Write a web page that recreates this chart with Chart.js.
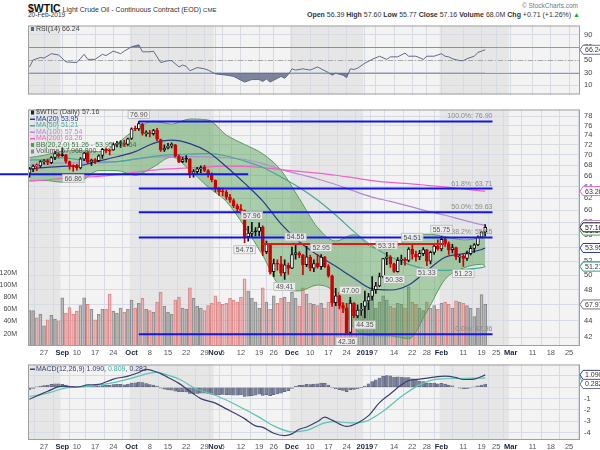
<!DOCTYPE html>
<html lang="en">
<head>
<meta charset="UTF-8">
<title>$WTIC Light Crude Oil</title>
<script src="https://cdn.jsdelivr.net/npm/chart.js"></script>
<style>
    body { margin: 0; background: #fff; }
    #box { position: relative; width: 600px; height: 450px; overflow: hidden; font-family: "Liberation Sans", Arial, sans-serif; }
    #box canvas { position: absolute; left: 0; }
    .txt { position: absolute; white-space: nowrap; font-size: 7px; color: #333; line-height: 1; }
</style>
</head>
<body>
<div id="box">
    <div class="txt" style="left:28px; top:3px;"><b style="font-size:10.5px; color:#111;">$WTIC</b> Light Crude Oil - Continuous Contract (EOD) <span style="font-size:6px;">CME</span></div>
    <div class="txt" style="left:28px; top:12px; font-size:6.5px;">20-Feb-2019</div>
    <div class="txt" style="right:22px; top:3px; color:#777; font-size:6.5px;">© StockCharts.com</div>
    <div class="txt" style="right:20px; top:11px;"><b>Open</b> 56.39 <b>High</b> 57.60 <b>Low</b> 55.77 <b>Close</b> 57.16 <b>Volume</b> 68.0M <b>Chg</b> +0.71 (+1.26%) <span style="color:#2a2;">▲</span></div>
    <canvas id="rsiChart" width="600" height="86" style="top:17px;"></canvas>
    <canvas id="priceChart" width="600" height="259" style="top:101px;"></canvas>
    <canvas id="macdChart" width="600" height="94" style="top:356px;"></canvas>
</div>
<script>
    const FONT = '"Liberation Sans", Arial, sans-serif';
    const GRID = '#d6dbe4';

    // trading sessions from 2018-08-21, weekends and exchange holidays skipped
    const holidays = ['2018-09-03', '2018-11-22', '2018-12-25', '2019-01-01', '2019-01-21', '2019-02-18'];
    const days = [];
    for (let d = new Date(Date.UTC(2018, 7, 21)); days.length < 152; d.setUTCDate(d.getUTCDate() + 1)) {
        const s = d.toISOString().slice(0, 10);
        if (d.getUTCDay() === 0 || d.getUTCDay() === 6 || holidays.includes(s)) continue;
        days.push(s);
    }

    const tickDates = ['2018-08-27', '2018-09-04', '2018-09-10', '2018-09-17', '2018-09-24', '2018-10-01', '2018-10-08', '2018-10-15', '2018-10-22', '2018-10-29',
        '2018-11-01', '2018-11-05', '2018-11-12', '2018-11-19', '2018-11-26', '2018-12-03', '2018-12-10', '2018-12-17', '2018-12-24', '2019-01-02',
        '2019-01-07', '2019-01-14', '2019-01-22', '2019-01-28', '2019-02-01', '2019-02-11', '2019-02-19', '2019-02-25', '2019-03-01', '2019-03-11',
        '2019-03-18', '2019-03-25'];
    const tickText = ['27', 'Sep', '10', '17', '24', 'Oct', '8', '15', '22', '29', 'Nov', '5', '12', '19', '26', 'Dec', '10', '17', '24', '2019',
        '7', '14', '22', '28', 'Feb', '11', '19', '25', 'Mar', '11', '18', '25'];
    const boldText = ['Sep', 'Oct', 'Nov', 'Dec', '2019', 'Feb', 'Mar'];
    const shadedMonths = ['2018-08', '2018-10', '2018-12', '2019-02'];

    const prevClose = 66.43;
    const open = [66.50, 67.30, 67.80, 67.90, 68.70, 68.90, 68.50, 69.50, 70.20, 69.90,
        70.00, 68.70, 67.80, 67.80, 67.50, 69.20, 70.40, 68.60, 69.00, 68.90,
        69.90, 71.10, 70.80, 71.00, 72.10, 72.30, 72.20, 72.10, 73.30, 75.30,
        75.30, 76.40, 74.30, 74.40, 74.30, 75.00, 73.10, 71.00, 71.40, 71.80,
        72.00, 69.80, 68.70, 69.20, 69.20, 66.40, 66.80, 67.30, 67.60, 67.00,
        66.20, 65.20, 63.60, 63.10, 63.10, 62.20, 61.60, 60.70, 60.20, 59.90,
        55.70, 56.20, 56.50, 56.50, 57.20, 53.40, 54.60, 50.50, 51.60, 51.60,
        50.30, 51.40, 51.00, 53.00, 53.20, 52.90, 51.50, 52.60, 51.00, 51.70,
        51.20, 52.60, 51.20, 49.90, 46.30, 47.20, 45.90, 45.60, 42.60, 46.20,
        44.60, 45.30, 45.80, 46.50, 47.10, 48.00, 48.50, 49.80, 52.40, 52.60,
        51.60, 50.50, 52.10, 52.30, 52.10, 53.80, 53.00, 52.60, 53.10, 53.70,
        52.00, 53.30, 54.20, 53.80, 55.30, 54.60, 53.70, 54.00, 52.60, 52.70,
        52.40, 53.10, 53.90, 54.40, 55.60, 56.39];
    const high = [67.60, 68.10, 68.30, 68.90, 69.10, 69.20, 69.70, 70.70, 70.40, 71.40,
        70.10, 68.80, 68.10, 68.20, 69.50, 70.50, 70.60, 69.20, 69.30, 70.00,
        71.30, 71.40, 71.10, 72.40, 72.70, 72.80, 72.90, 73.40, 75.50, 75.90,
        76.90, 76.50, 74.90, 75.00, 75.20, 75.40, 73.20, 72.00, 72.30, 72.40,
        72.10, 70.00, 69.60, 69.90, 69.30, 67.20, 67.60, 67.90, 68.00, 67.20,
        66.60, 65.30, 63.90, 63.80, 63.40, 62.70, 61.90, 61.00, 60.90, 60.00,
        57.30, 57.96, 57.10, 57.90, 57.40, 55.00, 54.60, 52.30, 52.20, 52.70,
        52.20, 51.70, 54.10, 54.55, 53.40, 53.00, 54.20, 52.90, 52.20, 53.00,
        52.95, 52.70, 51.50, 50.00, 48.20, 47.60, 46.30, 46.20, 47.00, 46.30,
        46.00, 46.20, 47.80, 47.50, 49.80, 49.00, 50.30, 52.40, 53.31, 52.80,
        51.70, 52.50, 52.90, 52.50, 54.00, 54.51, 53.50, 53.60, 54.00, 53.70,
        53.50, 54.50, 55.20, 55.75, 55.60, 54.90, 54.50, 54.10, 52.90, 53.10,
        53.50, 54.30, 54.60, 55.80, 56.50, 57.60];
    const low = [65.80, 66.80, 67.00, 67.60, 68.20, 68.10, 68.30, 69.10, 69.50, 69.70,
        68.40, 67.20, 66.86, 67.10, 67.30, 68.90, 68.30, 68.00, 68.30, 68.70,
        69.30, 70.40, 70.00, 70.90, 71.60, 71.50, 71.70, 71.90, 73.10, 74.90,
        75.00, 74.00, 73.80, 73.60, 74.00, 72.80, 70.70, 70.70, 71.20, 71.40,
        69.60, 68.50, 68.50, 68.60, 65.70, 65.80, 66.30, 66.60, 66.80, 65.80,
        64.90, 63.10, 62.50, 62.40, 61.80, 61.30, 60.40, 59.60, 59.30, 54.75,
        55.00, 55.60, 55.80, 55.80, 52.80, 53.10, 50.15, 49.80, 50.70, 49.90,
        49.41, 50.10, 50.90, 52.30, 52.50, 50.08, 51.20, 50.60, 50.50, 51.00,
        50.80, 51.10, 49.70, 45.79, 45.90, 45.50, 45.00, 42.36, 42.40, 44.40,
        44.40, 44.70, 44.35, 45.40, 46.60, 47.50, 48.40, 49.60, 51.50, 51.10,
        50.38, 50.40, 51.50, 51.40, 51.90, 52.30, 52.00, 52.20, 52.80, 51.33,
        51.60, 53.00, 53.60, 53.50, 54.20, 53.00, 53.20, 52.20, 51.80, 51.23,
        52.10, 52.90, 53.30, 54.30, 55.50, 55.77];
    const close = [67.35, 67.86, 67.83, 68.72, 68.87, 68.53, 69.51, 70.25, 69.80, 69.87,
        68.72, 67.77, 67.75, 67.54, 69.25, 70.37, 68.59, 68.99, 68.91, 69.85,
        71.12, 70.80, 70.78, 72.08, 72.28, 72.28, 72.12, 73.25, 75.30, 75.23,
        76.41, 74.33, 74.34, 74.29, 74.96, 73.17, 70.97, 71.34, 71.78, 72.09,
        69.75, 68.65, 69.12, 69.17, 66.43, 66.82, 67.33, 67.59, 67.04, 66.18,
        65.31, 63.69, 63.14, 63.10, 62.21, 61.67, 60.67, 60.19, 59.93, 55.69,
        56.25, 56.46, 56.46, 57.20, 53.43, 54.63, 50.42, 51.63, 51.56, 50.29,
        51.45, 50.93, 52.95, 53.25, 52.89, 51.49, 52.61, 51.00, 51.65, 51.15,
        52.58, 51.20, 49.88, 46.24, 47.20, 45.88, 45.59, 42.53, 46.22, 44.61,
        45.33, 45.41, 46.54, 47.09, 47.96, 48.52, 49.78, 52.36, 52.59, 51.59,
        50.51, 52.11, 52.31, 52.07, 53.80, 53.01, 52.62, 53.13, 53.69, 51.99,
        53.31, 54.23, 53.79, 55.26, 54.56, 53.66, 54.01, 52.64, 52.72, 52.41,
        53.10, 53.90, 54.41, 55.59, 56.45, 57.16];
    // volume, millions
    const volume = [58, 58, 46, 52, 33, 43, 50, 44, 41, 79, 54, 63, 52, 57, 66, 79, 68, 60, 43, 52, 60, 60, 85, 57, 54,
        62, 55, 60, 75, 62, 70, 78, 60, 58, 55, 72, 88, 65, 55, 52, 75, 80, 62, 60, 95, 78, 65, 62, 58, 66, 70,
        82, 72, 68, 70, 78, 75, 72, 80, 110, 90, 78, 72, 62, 95, 72, 60, 82, 70, 78, 80, 72,
        88, 78, 65, 95, 85, 70, 68, 66, 70, 62, 72, 98, 82, 88, 70, 62, 75, 68, 58, 50,
        72, 70, 80, 62, 72, 82, 75, 65, 62, 70, 68, 62, 97, 72, 68, 62, 58, 72, 62, 66, 60,
        70, 72, 68, 62, 74, 72, 70, 66, 62, 48, 62, 84, 68];

    // overlays read at every fifth session
    const maDay = [0, 4, 9, 14, 19, 24, 29, 34, 39, 44, 49, 54, 59, 64, 69, 74, 79, 84, 89, 94, 99, 104, 109, 114, 119, 124, 125];
    const ma20 = [67.30, 67.56, 67.81, 67.97, 68.82, 69.64, 70.65, 72.31, 72.95, 72.25, 70.59, 67.74, 64.68, 61.52, 57.70, 54.90, 52.89, 51.25, 49.57, 48.11, 47.96, 48.64, 50.62, 52.56, 53.09, 53.72, 53.95];
    const ma50 = [69.00, 69.10, 69.43, 69.07, 68.63, 68.70, 69.17, 69.73, 70.06, 70.16, 70.27, 69.80, 68.81, 67.58, 65.82, 63.91, 61.70, 59.16, 56.47, 54.25, 52.65, 51.52, 50.84, 50.67, 50.81, 51.05, 51.21];
    const ma100 = [68.10, 68.20, 68.47, 68.49, 68.47, 68.70, 69.19, 69.57, 69.68, 69.68, 69.64, 69.45, 69.12, 68.33, 67.23, 66.31, 65.44, 64.45, 63.27, 62.21, 61.46, 60.66, 59.83, 59.13, 58.32, 57.60, 57.54];
    const ma200 = [65.10, 65.25, 65.54, 65.75, 65.94, 66.25, 66.70, 67.09, 67.34, 67.54, 67.72, 67.83, 67.81, 67.57, 67.17, 66.86, 66.52, 66.13, 65.64, 65.16, 64.83, 64.60, 64.30, 64.00, 63.65, 63.30, 63.26];
    const bbUpper = [69.50, 69.94, 70.75, 70.85, 70.64, 72.28, 75.17, 76.93, 76.31, 77.41, 77.19, 74.02, 72.08, 70.22, 67.06, 61.96, 57.15, 55.01, 55.99, 54.03, 53.74, 55.44, 56.08, 55.70, 55.19, 55.90, 56.64];
    const bbLower = [65.10, 65.18, 64.87, 65.09, 67.00, 67.00, 66.13, 67.69, 69.59, 67.09, 63.99, 61.46, 57.28, 52.82, 48.34, 47.84, 48.63, 47.49, 43.15, 42.19, 42.18, 41.84, 45.16, 49.42, 50.99, 51.54, 51.26];

    const fibPct = ['100.0%', '61.8%', '50.0%', '38.2%', '0.0%'];
    const fibPrice = [76.90, 63.71, 59.63, 55.55, 42.36];
    const fibFrom = 30, fibTo = 127;
    const levelPrice = 66.3, levelTo = 60;
    const resistPrice = 54.55, resistFrom = 64, resistTo = 114;

    const noteDay = [12, 30, 59, 61, 70, 73, 80, 87, 88, 92, 98, 100, 105, 109, 113, 119];
    const noteSide = ['low', 'high', 'low', 'high', 'low', 'high', 'high', 'low', 'high', 'low', 'high', 'low', 'high', 'low', 'high', 'low'];

    const rsiDay = [0, 1, 3, 4, 6, 8, 10, 13, 15, 16, 18, 20, 21, 23, 25, 26, 28, 30, 31, 33, 34, 36, 38, 39, 41, 42, 43, 44, 46, 48,
        49, 51, 54, 56, 59, 61, 63, 64, 65, 66, 67, 69, 70, 71, 72, 73, 75, 77, 79, 80, 82, 83, 84, 86, 87, 88, 89, 90, 92, 94,
        96, 98, 99, 101, 103, 104, 106, 108, 109, 111, 113, 114, 115, 116, 118, 119, 120, 122, 123, 124, 125];
    const rsiValue = [39, 50, 54, 53, 60, 58, 47, 46, 59, 51, 51, 59, 57, 64, 60, 64, 71, 74, 63, 63, 64, 46, 49, 49, 39, 42, 40, 33, 38, 36,
        34, 28, 26, 24, 15, 19, 19, 16, 20, 15, 18, 24, 21, 27, 36, 34, 36, 34, 39, 36, 30, 26, 29, 26, 22, 36, 35, 37, 45, 51,
        56, 51, 55, 55, 61, 56, 56, 51, 56, 56, 60, 56, 55, 52, 49, 49, 52, 56, 62, 64, 66.24];

    const macdDay = [0, 2, 5, 9, 13, 16, 19, 23, 27, 30, 32, 36, 38, 41, 44, 47, 51, 54, 57, 59, 62, 64, 67, 70, 72, 74, 76, 79, 81, 83,
        87, 90, 93, 96, 99, 102, 104, 107, 110, 114, 117, 119, 122, 125];
    const macdValue = [-1.05, -0.77, -0.35, 0.10, 0.02, 0.20, 0.26, 0.72, 0.98, 1.30, 1.58, 1.20, 0.85, 0.34, -0.36, -1.00, -1.40, -1.90, -2.40, -2.76,
        -3.40, -3.53, -4.05, -4.25, -4.10, -3.70, -3.50, -3.02, -2.63, -2.89, -3.45, -3.14, -2.50, -1.35, -0.57, 0.21, 0.59, 0.72, 0.85, 0.98,
        0.85, 0.68, 0.72, 1.09];
    const signalDay = [0, 5, 10, 16, 22, 28, 33, 35, 37, 41, 46, 51, 57, 63, 67, 72, 76, 81, 84, 88, 92, 97, 102, 107, 112, 118, 125];
    const signalValue = [-0.82, -0.52, -0.05, 0.08, 0.34, 0.80, 1.24, 1.30, 1.15, 0.72, -0.18, -0.70, -1.60, -2.63, -3.40, -3.92, -3.79, -3.14, -3.02, -3.14,
        -3.02, -2.11, -0.82, 0.21, 0.72, 0.77, 0.809];
    const macdHist = [-0.2, -0.1, 0.02, 0.1, 0.15, 0.2, 0.25, 0.3, 0.3, 0.26, 0.18, 0.1, 0.05, 0.02, 0.06, 0.12, 0.1, 0.1, 0.07, 0.08,
        0.15, 0.16, 0.16, 0.24, 0.26, 0.25, 0.22, 0.27, 0.36, 0.38, 0.45, 0.4, 0.33, 0.24, 0.2, 0.1, -0.08, -0.18, -0.24, -0.26,
        -0.34, -0.4, -0.4, -0.42, -0.55, -0.56, -0.55, -0.52, -0.52, -0.55, -0.6, -0.66, -0.66, -0.64, -0.66, -0.68, -0.7, -0.7, -0.68, -0.8,
        -0.78, -0.74, -0.7, -0.62, -0.72, -0.66, -0.74, -0.66, -0.58, -0.52, -0.4, -0.3, -0.1, 0.08, 0.16, 0.18, 0.26, 0.24, 0.28, 0.3,
        0.36, 0.34, 0.2, -0.05, -0.12, -0.22, -0.28, -0.4, -0.22, -0.2, -0.12, -0.04, 0.1, 0.3, 0.5, 0.66, 0.8, 0.98, 1.02, 1.0,
        0.9, 0.92, 0.9, 0.84, 0.86, 0.74, 0.62, 0.55, 0.5, 0.36, 0.34, 0.36, 0.3, 0.34, 0.28, 0.18, 0.12, 0.0, -0.08, -0.14,
        -0.12, -0.06, 0.02, 0.12, 0.2, 0.282];

    const priceTicks = [42, 44, 46, 48, 50, 52, 54, 56, 58, 60, 62, 64, 66, 68, 70, 72, 74, 76, 78];
    const volTicks = [20, 40, 60, 80, 100, 120];
    const rsiTicks = [10, 30, 50, 70, 90];
    const macdTicks = [-4, -3, -2, -1, 0, 1];

    const tickDays = tickDates.map(d => days.indexOf(d));
    const monthSpans = shadedMonths.map(m => {
        const idx = days.map((d, i) => d.startsWith(m) ? i : -1).filter(i => i >= 0);
        return [idx[0], idx[idx.length - 1]];
    });
    const X_MIN = -0.4, X_MAX = 151;

    const upDay = close.map((c, i) => c >= (i ? close[i - 1] : prevClose));
    const candleColor = upDay.map(u => u ? '#111111' : '#d00000');

    function xAxis(showLabels, h) {
        return {
            type: 'linear', min: X_MIN, max: X_MAX, offset: false,
            afterBuildTicks: s => { s.ticks = tickDays.map(v => ({ value: v })); },
            afterFit: s => { s.height = h; },
            grid: { color: GRID, drawTicks: false },
            border: { display: false },
            ticks: {
                display: showLabels, padding: 2, maxRotation: 0, autoSkip: false,
                callback: (v, i) => tickText[i],
                color: c => boldText.includes(tickText[c.index]) ? '#1a2340' : '#555',
                font: c => ({ family: FONT, size: 7.5, weight: boldText.includes(tickText[c.index]) ? 'bold' : 'normal' })
            }
        };
    }

    function yRight(type, min, max, ticks) {
        return {
            type: type, position: 'right', min: min, max: max,
            afterBuildTicks: s => { s.ticks = ticks.map(v => ({ value: v })); },
            afterFit: s => { s.width = 20; },
            grid: { color: GRID, drawTicks: false },
            border: { display: false },
            ticks: { padding: 4, color: '#444', font: { family: FONT, size: 7.5 }, callback: v => String(v) }
        };
    }

    const panelBg = {
        id: 'panelBg',
        beforeDraw(chart) {
            const { ctx, chartArea: a, scales: { x } } = chart;
            ctx.save();
            ctx.fillStyle = '#f3f3f3';
            ctx.fillRect(a.left, a.top, a.width, a.height);
            ctx.fillStyle = '#e6e6e6';
            monthSpans.forEach(([s, e]) => {
                const l = Math.max(a.left, x.getPixelForValue(s - 0.5));
                const r = Math.min(a.right, x.getPixelForValue(e + 0.5));
                ctx.fillRect(l, a.top, r - l, a.height);
            });
            ctx.restore();
        },
        afterDraw(chart) {
            const { ctx, chartArea: a } = chart;
            ctx.save();
            ctx.strokeStyle = '#a0a0a0';
            ctx.lineWidth = 1;
            ctx.strokeRect(a.left + 0.5, a.top + 0.5, a.width - 1, a.height - 1);
            ctx.restore();
        }
    };

    function axisTag(ctx, left, yPix, text, border, color) {
        ctx.font = '7px ' + FONT;
        const w = ctx.measureText(text).width + 5;
        ctx.beginPath();
        ctx.moveTo(left, yPix);
        ctx.lineTo(left + 3, yPix - 4.5);
        ctx.lineTo(left + 3 + w, yPix - 4.5);
        ctx.lineTo(left + 3 + w, yPix + 4.5);
        ctx.lineTo(left + 3, yPix + 4.5);
        ctx.closePath();
        ctx.fillStyle = '#ffffff';
        ctx.fill();
        ctx.strokeStyle = border;
        ctx.lineWidth = 1;
        ctx.stroke();
        ctx.fillStyle = color;
        ctx.textAlign = 'left';
        ctx.textBaseline = 'middle';
        ctx.fillText(text, left + 5, yPix + 0.5);
    }

    function legendLine(ctx, xPos, yPos, mark, parts) {
        ctx.font = '7px ' + FONT;
        ctx.textBaseline = 'middle';
        ctx.textAlign = 'left';
        ctx.fillStyle = mark.color;
        if (mark.type === 'line') {
            ctx.fillRect(xPos, yPos - 0.5, 5, 1.5);
        } else {
            ctx.fillRect(xPos + 1, yPos - 2, 3, 4);
        }
        let cx = xPos + 6;
        parts.forEach(([t, c]) => {
            ctx.fillStyle = c;
            ctx.fillText(t, cx, yPos);
            cx += ctx.measureText(t).width;
        });
    }

    // RSI panel
    const rsiNotes = {
        id: 'rsiNotes',
        beforeDatasetsDraw(chart) {
            const { ctx, chartArea: a, scales: { y } } = chart;
            ctx.save();
            ctx.strokeStyle = '#9299a8';
            ctx.lineWidth = 1;
            [70, 30].forEach(v => {
                const py = Math.round(y.getPixelForValue(v)) + 0.5;
                ctx.beginPath(); ctx.moveTo(a.left, py); ctx.lineTo(a.right, py); ctx.stroke();
            });
            ctx.strokeStyle = '#a8a8a8';
            ctx.setLineDash([5, 2, 1, 2]);
            const py = Math.round(y.getPixelForValue(50)) + 0.5;
            ctx.beginPath(); ctx.moveTo(a.left, py); ctx.lineTo(a.right, py); ctx.stroke();
            ctx.restore();
        },
        afterDraw(chart) {
            const { ctx, chartArea: a, scales: { y } } = chart;
            const last = rsiValue[rsiValue.length - 1];
            ctx.save();
            legendLine(ctx, a.left + 2, a.top + 3.5, { type: 'box', color: '#5a6280' }, [['RSI(14) ' + last.toFixed(2), '#444']]);
            axisTag(ctx, a.right, y.getPixelForValue(last), last.toFixed(2), '#6a7090', '#333');
            ctx.restore();
        }
    };

    const rsiPoints = rsiDay.map((d, i) => ({ x: d, y: rsiValue[i] }));
    new Chart(document.getElementById('rsiChart'), {
        type: 'line',
        data: {
            datasets: [{
                data: rsiPoints,
                borderColor: '#636b88', borderWidth: 1, pointRadius: 0,
                fill: { target: { value: 30 }, above: 'rgba(0,0,0,0)', below: 'rgba(96,104,134,0.8)' }
            }, {
                data: rsiPoints,
                borderColor: 'rgba(0,0,0,0)', borderWidth: 0, pointRadius: 0,
                fill: { target: { value: 70 }, above: 'rgba(96,104,134,0.8)', below: 'rgba(0,0,0,0)' }
            }]
        },
        options: {
            responsive: false, animation: false,
            layout: { padding: { left: 28, top: 1, bottom: 1, right: 0 } },
            plugins: { legend: { display: false }, tooltip: { enabled: false } },
            scales: { x: xAxis(false, 0), y: yRight('linear', -4.7, 104.7, rsiTicks) }
        },
        plugins: [panelBg, rsiNotes]
    });

    // price panel
    const priceNotes = {
        id: 'priceNotes',
        afterDatasetsDraw(chart) {
            const { ctx, scales: { x, y } } = chart;
            ctx.save();
            ctx.lineWidth = 2;
            ctx.strokeStyle = '#1414e6';
            let py = y.getPixelForValue(levelPrice);
            ctx.beginPath(); ctx.moveTo(0, py); ctx.lineTo(x.getPixelForValue(levelTo), py); ctx.stroke();

            ctx.font = '7px ' + FONT;
            ctx.textAlign = 'right';
            ctx.textBaseline = 'bottom';
            fibPrice.forEach((p, i) => {
                const fy = y.getPixelForValue(p);
                ctx.strokeStyle = '#1414e6';
                ctx.beginPath(); ctx.moveTo(x.getPixelForValue(fibFrom), fy); ctx.lineTo(x.getPixelForValue(fibTo), fy); ctx.stroke();
                ctx.fillStyle = '#8a8a8a';
                ctx.fillText(fibPct[i] + ': ' + p.toFixed(2), x.getPixelForValue(fibTo), fy - 1.5);
            });

            ctx.strokeStyle = '#e01818';
            py = y.getPixelForValue(resistPrice);
            ctx.beginPath(); ctx.moveTo(x.getPixelForValue(resistFrom), py); ctx.lineTo(x.getPixelForValue(resistTo), py); ctx.stroke();

            ctx.lineWidth = 0.8;
            ctx.textAlign = 'center';
            ctx.textBaseline = 'middle';
            noteDay.forEach((d, i) => {
                const isHigh = noteSide[i] === 'high';
                const v = isHigh ? high[d] : low[d];
                const t = v.toFixed(2);
                const w = ctx.measureText(t).width + 4;
                const cx = x.getPixelForValue(d);
                const cy = y.getPixelForValue(v) + (isHigh ? -7 : 7);
                ctx.fillStyle = 'rgba(240,240,240,0.9)';
                ctx.fillRect(cx - w / 2, cy - 4, w, 8);
                ctx.strokeStyle = '#b8b8b8';
                ctx.strokeRect(cx - w / 2, cy - 4, w, 8);
                ctx.fillStyle = '#555';
                ctx.fillText(t, cx, cy + 0.5);
            });
            ctx.restore();
        },
        afterDraw(chart) {
            const { ctx, chartArea: a, scales: { y, vol } } = chart;
            ctx.save();
            const last = close.length - 1;
            const lx = a.left + 2, ly = a.top + 3;
            legendLine(ctx, lx, ly, { type: 'box', color: '#222' }, [['$WTIC (Daily) ' + close[last].toFixed(2), '#444']]);
            legendLine(ctx, lx, ly + 6.5, { type: 'line', color: '#2b3a8a' }, [['MA(20) ' + ma20[ma20.length - 1].toFixed(2), '#2b3a8a']]);
            legendLine(ctx, lx, ly + 13, { type: 'line', color: '#46a898' }, [['MA(50) ' + ma50[ma50.length - 1].toFixed(2), '#46a898']]);
            legendLine(ctx, lx, ly + 19.5, { type: 'line', color: '#b48ad6' }, [['MA(100) ' + ma100[ma100.length - 1].toFixed(2), '#b48ad6']]);
            legendLine(ctx, lx, ly + 26, { type: 'line', color: '#f062c8' }, [['MA(200) ' + ma200[ma200.length - 1].toFixed(2), '#f062c8']]);
            legendLine(ctx, lx, ly + 32.5, { type: 'box', color: '#4e9a4e' }, [['BB(20,2.0) ' + bbLower[bbLower.length - 1].toFixed(2) + ' - ' + ma20[ma20.length - 1].toFixed(2) + ' - ' + bbUpper[bbUpper.length - 1].toFixed(2), '#3d7a3d']]);
            legendLine(ctx, lx, ly + 39, { type: 'box', color: '#888' }, [['Volume 67,968,800', '#555']]);

            axisTag(ctx, a.right, y.getPixelForValue(ma200[ma200.length - 1]), ma200[ma200.length - 1].toFixed(2), '#f062c8', '#333');
            axisTag(ctx, a.right, y.getPixelForValue(ma100[ma100.length - 1]), ma100[ma100.length - 1].toFixed(2), '#b48ad6', '#333');
            axisTag(ctx, a.right, y.getPixelForValue(bbUpper[bbUpper.length - 1]), bbUpper[bbUpper.length - 1].toFixed(2), '#4e9a4e', '#333');
            axisTag(ctx, a.right, y.getPixelForValue(close[last]), close[last].toFixed(2), '#222', '#111');
            axisTag(ctx, a.right, y.getPixelForValue(ma20[ma20.length - 1]), ma20[ma20.length - 1].toFixed(2), '#2b3a8a', '#333');
            axisTag(ctx, a.right, y.getPixelForValue(bbLower[bbLower.length - 1]), bbLower[bbLower.length - 1].toFixed(2), '#4e9a4e', '#333');
            axisTag(ctx, a.right, y.getPixelForValue(ma50[ma50.length - 1]), ma50[ma50.length - 1].toFixed(2), '#46a898', '#333');
            axisTag(ctx, a.right, vol.getPixelForValue(volume[last]), '67.97M', '#777', '#333');
            ctx.restore();
        }
    };

    function maLine(values, color, order) {
        return {
            type: 'line', yAxisID: 'y', order: order,
            data: maDay.map((d, i) => ({ x: d, y: values[i] })),
            borderColor: color, borderWidth: 1.2, pointRadius: 0, cubicInterpolationMode: 'monotone', fill: false
        };
    }

    new Chart(document.getElementById('priceChart'), {
        type: 'bar',
        data: {
            datasets: [{
                type: 'bar', yAxisID: 'vol', order: 8,
                data: volume.map((v, i) => ({ x: i, y: v })),
                backgroundColor: upDay.map(u => u ? 'rgba(160,160,160,0.6)' : 'rgba(236,150,150,0.55)'),
                borderColor: upDay.map(u => u ? 'rgba(115,115,115,0.8)' : 'rgba(210,110,110,0.8)'),
                borderWidth: 0.6, borderSkipped: false, barThickness: 3, grouped: false
            }, {
                type: 'line', yAxisID: 'y', order: 7,
                data: maDay.map((d, i) => ({ x: d, y: bbUpper[i] })),
                borderColor: '#5c9c5c', borderWidth: 1, pointRadius: 0, cubicInterpolationMode: 'monotone',
                fill: '+1', backgroundColor: 'rgba(80,160,80,0.45)'
            }, {
                type: 'line', yAxisID: 'y', order: 7,
                data: maDay.map((d, i) => ({ x: d, y: bbLower[i] })),
                borderColor: '#5c9c5c', borderWidth: 1, pointRadius: 0, cubicInterpolationMode: 'monotone', fill: false
            },
            maLine(ma200, '#f062c8', 5),
            maLine(ma100, '#b48ad6', 5),
            maLine(ma50, '#46a898', 4),
            maLine(ma20, '#2b3a8a', 3),
            {
                type: 'bar', yAxisID: 'y', order: 2,
                data: close.map((c, i) => ({ x: i, y: [low[i], high[i]] })),
                backgroundColor: candleColor, borderWidth: 0, barThickness: 1, grouped: false, minBarLength: 1
            }, {
                type: 'bar', yAxisID: 'y', order: 1,
                data: close.map((c, i) => ({ x: i, y: [open[i], c] })),
                backgroundColor: close.map((c, i) => c > open[i] ? '#ffffff' : candleColor[i]),
                borderColor: candleColor, borderWidth: 1, borderSkipped: false,
                barThickness: 3, grouped: false, minBarLength: 1
            }]
        },
        options: {
            responsive: false, animation: false,
            layout: { padding: { top: 1, left: 0, right: 0, bottom: 0 } },
            plugins: { legend: { display: false }, tooltip: { enabled: false } },
            scales: {
                x: xAxis(true, 14),
                y: yRight('logarithmic', 41.0, 79.5, priceTicks),
                vol: {
                    type: 'linear', position: 'left', min: 0, max: 387,
                    afterBuildTicks: s => { s.ticks = volTicks.map(v => ({ value: v })); },
                    afterFit: s => { s.width = 28; },
                    grid: { display: false }, border: { display: false },
                    ticks: { padding: 3, color: '#444', font: { family: FONT, size: 7 }, callback: v => v + 'M' }
                }
            }
        },
        plugins: [panelBg, priceNotes]
    });

    // MACD panel
    const macdNotes = {
        id: 'macdNotes',
        afterDraw(chart) {
            const { ctx, chartArea: a, scales: { y } } = chart;
            ctx.save();
            const m = macdValue[macdValue.length - 1], s = signalValue[signalValue.length - 1], h = macdHist[macdHist.length - 1];
            legendLine(ctx, a.left + 2, a.top + 4.5, { type: 'line', color: '#3a4070' },
                [['MACD(12,26,9) ' + m.toFixed(3) + ', ', '#3a4070'], [s.toFixed(3), '#3fb3a0'], [', ' + h.toFixed(3), '#3a4070']]);
            axisTag(ctx, a.right, y.getPixelForValue(s), s.toFixed(3), '#3fb3a0', '#333');
            axisTag(ctx, a.right, y.getPixelForValue(m), m.toFixed(3), '#3a4070', '#333');
            axisTag(ctx, a.right, y.getPixelForValue(h), h.toFixed(3), '#6a7090', '#333');
            ctx.restore();
        }
    };

    new Chart(document.getElementById('macdChart'), {
        type: 'bar',
        data: {
            datasets: [{
                type: 'bar', order: 3,
                data: macdHist.map((v, i) => ({ x: i, y: v })),
                backgroundColor: '#7c829a', borderColor: '#555b75', borderWidth: 0.5,
                borderSkipped: false, barThickness: 3, grouped: false
            }, {
                type: 'line', order: 2,
                data: signalDay.map((d, i) => ({ x: d, y: signalValue[i] })),
                borderColor: '#5cc4b2', borderWidth: 1.2, pointRadius: 0, cubicInterpolationMode: 'monotone', fill: false
            }, {
                type: 'line', order: 1,
                data: macdDay.map((d, i) => ({ x: d, y: macdValue[i] })),
                borderColor: '#3a4070', borderWidth: 1.2, pointRadius: 0, cubicInterpolationMode: 'monotone', fill: false
            }]
        },
        options: {
            responsive: false, animation: false,
            layout: { padding: { top: 1, left: 28, right: 0, bottom: 0 } },
            plugins: { legend: { display: false }, tooltip: { enabled: false } },
            scales: { x: xAxis(true, 10), y: yRight('linear', -4.64, 2.0, macdTicks) }
        },
        plugins: [panelBg, macdNotes]
    });
</script>
</body>
</html>
